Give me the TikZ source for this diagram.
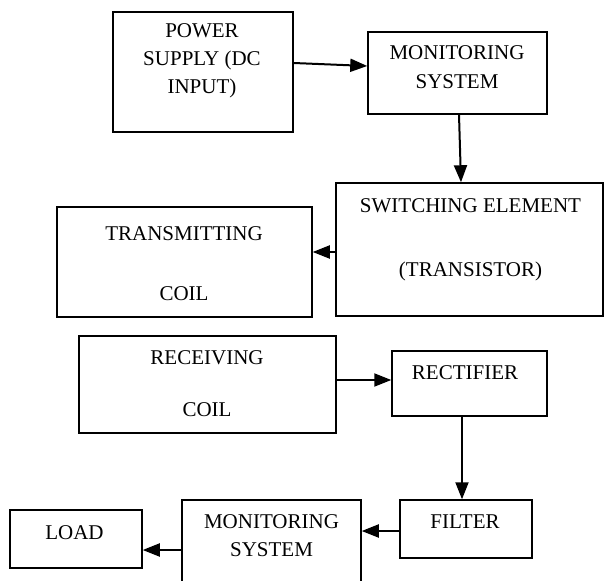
\documentclass[tikz,border=0pt]{standalone}
\usepackage{fontspec}
\setmainfont{Liberation Serif}
\usetikzlibrary{arrows.meta, positioning}

\begin{document}
\begin{tikzpicture}[
    x=1pt, y=-1pt,
    block/.style={
      rectangle,
      draw,
      line width=1.5pt,
      inner sep=0pt
    },
    txt/.style={
      align=center,
      inner sep=0pt,
      font=\fontsize{21}{28}\selectfont
    },
    arrow/.style={
      -{Triangle[length=17pt,width=13pt]},
      line width=2pt
    }
  ]
  \clip (0,0) rectangle (604,580);

  % Transmitter side
  \node[block, minimum width=180pt, minimum height=120pt] (psu) at (203,72) {};
  \node[block, minimum width=179pt, minimum height=82pt] (montx) at (457.5,73) {};
  \node[block, minimum width=267pt, minimum height=133pt] (switch) at (469.5,249.5) {};
  \node[block, minimum width=255pt, minimum height=110pt] (txcoil) at (184.5,262) {};

  % Receiver side
  \node[block, minimum width=257pt, minimum height=97pt] (rxcoil) at (207.5,384.5) {};
  \node[block, minimum width=155pt, minimum height=65pt] (rect) at (469.5,383.5) {};
  \node[block, minimum width=132pt, minimum height=58pt] (filter) at (466,529) {};
  \node[block, minimum width=179pt, minimum height=100pt] (monrx) at (271.5,550) {};
  \node[block, minimum width=132pt, minimum height=58pt] (load) at (76,539) {};

  % Texts
  \node[txt] (psutxt) at (202,61) {POWER\\SUPPLY (DC\\INPUT)};
  \node[txt] (montxtxt) at (457,67.5) {MONITORING\\[1pt]SYSTEM};
  \node[txt] (switchtxt) at (470.5,240) {SWITCHING ELEMENT\\[36pt](TRANSISTOR)};
  \node[txt] (txcoiltxt) at (184,263.5) {TRANSMITTING\\[32.5pt]COIL};
  \node[txt] (rxcoiltxt) at (207,384) {RECEIVING\\[24pt]COIL};
  \node[txt] (recttxt) at (465,373) {RECTIFIER};
  \node[txt] (filtertxt) at (465,522) {FILTER};
  \node[txt] (monrxtxt) at (271.5,536) {MONITORING\\SYSTEM};
  \node[txt] (loadtxt) at (74.5,533) {LOAD};

  % Arrows
  \draw[arrow] ([yshift=9pt]psu.east) -- ([yshift=7pt]montx.west);
  \draw[arrow] ([xshift=1.5pt]montx.south) -- ([xshift=-8.5pt]switch.north);
  \draw[arrow] ([yshift=-2.5pt]switch.west) -- ([yshift=-2.5pt]switch.west -| txcoil.east);
  \draw[arrow] ([yshift=4.5pt]rxcoil.east) -- ([yshift=4.5pt]rxcoil.east -| rect.west);
  \draw[arrow] ([xshift=-7.5pt]rect.south) -- ([xshift=-7.5pt]rect.south |- filter.north);
  \draw[arrow] ([yshift=-2pt]filter.west) -- ([yshift=-2pt]filter.west -| monrx.east);
  \draw[arrow] (monrx.west) -- (monrx.west -| load.east);

\end{tikzpicture}
\end{document}
